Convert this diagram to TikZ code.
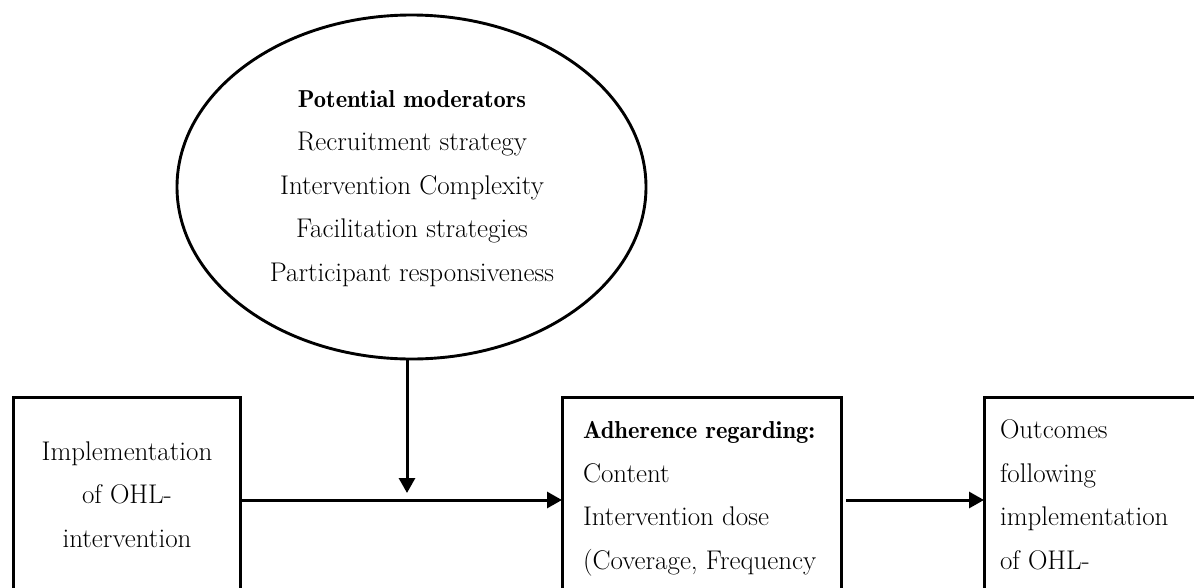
\documentclass[tikz,border=0pt]{standalone}
\usetikzlibrary{shapes.geometric,arrows.meta}
\begin{document}
\begin{tikzpicture}[x=1pt,y=-1pt,
  every node/.style={inner sep=0pt,outer sep=0pt},
  boxnode/.style={draw,line width=3pt,rectangle,minimum width=#1,minimum height=206pt},
  txt/.style={font=\fontsize{27}{43.5}\selectfont},
  arr/.style={line width=3pt,-{Triangle[length=15pt,width=16pt]}}]
\useasboundingbox (0,0) rectangle (1194,587);
\clip (0,0) rectangle (1194,587);
% ellipse
\node[ellipse,draw,line width=2.9pt,minimum width=469pt,minimum height=344pt] (ell) at (411.5,187) {};
\node[txt,align=center,anchor=base] (elltxt) at (412,281)
  {{\fontsize{24.5}{43.5}\fontseries{b}\selectfont Potential moderators}\\
   Recruitment strategy\\
   Intervention Complexity\\
   Facilitation strategies\\
   Participant responsiveness};
% boxes
\node[boxnode=227pt] (left) at (126.5,500) {};
\node[boxnode=279pt] (mid) at (701.5,500) {};
\node[boxnode=266pt] (right) at (1117,500) {};
% box texts
\node[txt,align=center,anchor=base] (lefttxt) at (127,547)
  {Implementation\\ of OHL-\\ intervention};
\node[txt,align=left,anchor=base west] (midtxt) at (583,569)
  {{\fontsize{24.5}{43.5}\fontseries{b}\selectfont Adherence regarding:}\\
   Content\\ Intervention dose\\ (Coverage, Frequency};
\node[txt,align=left,anchor=base west] (righttxt) at (1000,569)
  {Outcomes\\ following\\ implementation\\ of OHL-};
% connectors
\coordinate (tip) at (407,493);
\draw[arr] (tip |- ell.south) -- (tip);
\draw[arr] (left.east) -- (mid.west);
\draw[arr] ([xshift=5pt]mid.east) -- (right.west);
\end{tikzpicture}
\end{document}
